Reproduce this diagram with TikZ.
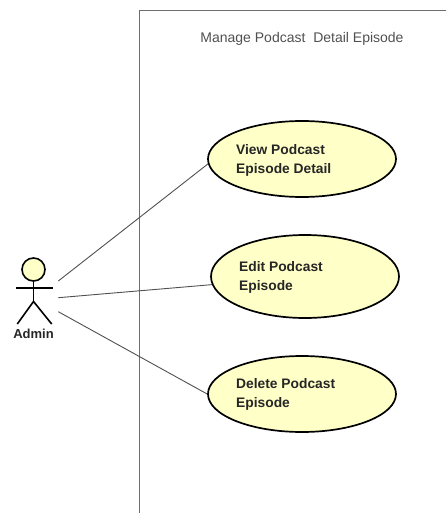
\documentclass[tikz,border=0pt]{standalone}
\usepackage{fontspec}
\setmainfont{Liberation Sans}
\usetikzlibrary{shapes.geometric}
\definecolor{ucfill}{HTML}{FFFFC8}
\definecolor{boxline}{HTML}{6E6E6E}
\definecolor{titlecol}{HTML}{505050}
\definecolor{linkcol}{HTML}{505050}
\tikzset{
  usecase/.style={ellipse, draw=black, line width=1.7pt, fill=ucfill, inner sep=0pt},
  uclabel/.style={anchor=west, align=left, inner sep=0pt, font=\fontsize{13.8}{19}\selectfont\bfseries, text=black!85},
  assoc/.style={draw=linkcol, line width=0.9pt},
  actorline/.style={draw=black, line width=1.6pt},
}
\begin{document}
\begin{tikzpicture}[x=1pt,y=-1pt]
\useasboundingbox (0,0) rectangle (446,513);
% system boundary
\draw[boxline, line width=0.9pt] (447,10) -- (139.5,10) -- (139.5,514);
\node[font=\fontsize{14}{16}\selectfont, text=titlecol, inner sep=0pt] (title) at (302,39) {Manage Podcast\ \ Detail Episode};
% use cases
\node[usecase, minimum width=188pt, minimum height=76pt] (u1) at (302,159) {};
\node[usecase, minimum width=188pt, minimum height=83pt] (u2) at (305,276.5) {};
\node[usecase, minimum width=188pt, minimum height=76pt] (u3) at (302,394) {};
\node[uclabel] (t1) at (236,160) {View Podcast\\Episode Detail};
\node[uclabel] (t2) at (239,277.5) {Edit Podcast\\Episode};
\node[uclabel] (t3) at (236,394) {Delete Podcast\\Episode};
% actor
\node[circle, draw=black, line width=1.6pt, fill=ucfill, minimum size=23pt, inner sep=0pt] (head) at (33.5,269.5) {};
\coordinate (hip) at (33.5,301.5);
\coordinate (armL) at (16,287.7);
\coordinate (armR) at (52.5,287.7);
\coordinate (legL) at (17.3,324);
\coordinate (legR) at (51.7,324);
\draw[actorline] (head.south) -- (hip);
\draw[actorline] (armL) -- (armR);
\draw[actorline] (legL) -- (hip) -- (legR);
\node[font=\fontsize{13}{15}\selectfont\bfseries, text=black!85, inner sep=0pt] (admin) at (33.5,334) {Admin};
% associations
\coordinate (a1) at (58.3,281);
\coordinate (a2) at (58.3,297.7);
\coordinate (a3) at (58.3,311.7);
\draw[assoc] (a1) -- (u1.183);
\draw[assoc] (a2) -- (u2.185);
\draw[assoc] (a3) -- (u3.west);
\end{tikzpicture}
\end{document}
